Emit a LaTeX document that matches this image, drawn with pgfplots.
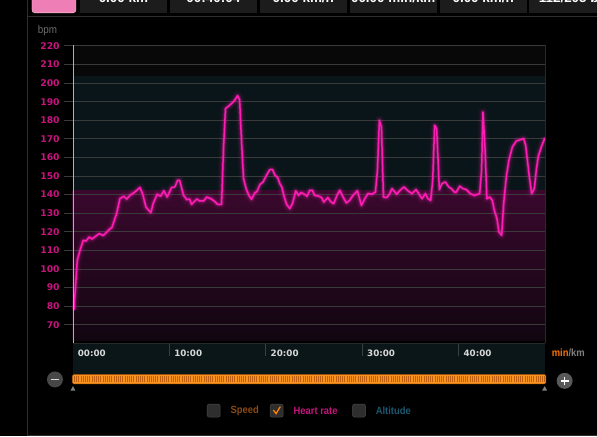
\documentclass[border=0pt]{standalone}
\usepackage{pgfplots}
\pgfplotsset{compat=1.18}
\usepackage{pgfplotstable}
\usepackage{fontspec}
\setmainfont{DejaVu Sans}
\newfontfamily\labfont[FakeStretch=0.9]{Liberation Sans}
\newfontfamily\topfont{Liberation Sans}
\newfontfamily\tickfont{DejaVu Sans}
\definecolor{hr}{HTML}{FF1CB4}
\definecolor{ylab}{HTML}{C8137F}
\definecolor{gridc}{HTML}{3A3A3A}
\definecolor{teal}{HTML}{0A1519}
\definecolor{pinktop}{HTML}{3A082D}
\definecolor{pinkbot}{HTML}{110610}
\definecolor{band}{HTML}{0B1619}
\definecolor{axorange}{HTML}{F5A04A}
\definecolor{barorange}{HTML}{F7931E}
\definecolor{bardark}{HTML}{C0600E}
\definecolor{speedc}{HTML}{8C4A12}
\definecolor{altc}{HTML}{1C5870}
\definecolor{boxc}{HTML}{1C1C1C}
\definecolor{pinkbox}{HTML}{EE7FB6}

\pgfplotstableread{
t bpm
0.13 77.8
0.48 104.7
0.76 110
1.10 115.4
1.38 115
1.72 117.2
2.00 116.1
2.28 117.2
2.76 119
3.17 118
3.52 119.7
3.79 121.2
4.07 122.3
4.56 129.8
4.90 137.8
5.32 139.1
5.60 137.6
5.94 139.6
6.46 141.4
6.97 143.8
7.25 140.5
7.60 133.3
8.11 130.3
8.35 135.2
8.77 140.2
9.12 139.1
9.46 142
9.80 138.7
10.26 143.8
10.60 144.1
10.88 147.7
11.09 147.7
11.50 139.6
11.84 137.3
12.12 137.6
12.33 134.8
12.88 137.6
13.16 136.6
13.58 136.6
13.92 138.7
14.40 137.6
14.75 136.2
15.03 134.8
15.44 134.8
15.65 165.6
15.85 186.2
16.27 188
16.75 190.3
17.10 193.2
17.31 191.1
17.51 169.2
17.72 148.6
17.99 143.2
18.27 139.6
18.55 137.5
18.89 140.9
19.10 141.6
19.44 145.5
19.75 146.8
20.10 150.4
20.45 153.4
20.73 153.4
20.99 150.4
21.27 149.1
21.48 145.9
21.69 144.1
21.90 139.6
22.18 134.8
22.52 132.5
22.80 135.2
23.14 142
23.42 139.6
23.69 141.1
24.04 140.2
24.31 139.1
24.59 142.3
24.87 142.3
25.08 139.6
25.49 139.2
25.83 138.4
26.04 136
26.46 138.4
26.80 136
27.08 135.2
27.42 139.6
27.70 142.3
28.04 138.7
28.39 135.5
28.74 137
29.08 139.6
29.53 142
29.95 134.2
30.29 137.8
30.63 140.5
31.05 140.2
31.40 141.4
31.61 153.1
31.81 180
32.02 176.3
32.23 138.7
32.57 138.4
32.85 140.2
33.12 143.2
33.61 140.2
33.95 142.3
34.36 144.1
34.78 142
35.19 140.5
35.61 142.7
35.89 140.5
36.23 137.8
36.58 140.5
36.85 137.8
37.13 136.9
37.34 147.7
37.54 177.3
37.75 175.5
38.03 142.7
38.30 145.9
38.65 146.8
39.00 144.1
39.28 143.2
39.62 141.2
39.79 141.4
40.14 144.5
40.48 143.2
40.83 142.7
41.24 140.5
41.66 139.6
42.21 140.5
42.41 153.1
42.55 184.4
42.76 165.6
42.96 137.8
43.24 138.7
43.52 136.9
43.73 131.6
44.00 127.1
44.21 119.9
44.49 118.1
44.70 135.2
44.97 149.5
45.24 158.4
45.60 165.6
46.01 168.8
46.49 169.6
46.77 170.1
46.98 166.5
47.32 151.3
47.60 140.5
47.88 143.2
48.08 153.1
48.29 160.6
48.63 166
48.98 170.6
}\hrdata

\begin{document}
\begin{tikzpicture}[x=1bp,y=1bp]
\coordinate (P0) at (0,0);
\coordinate (P1) at (597,436);
\path (P0) rectangle (P1);
% top bar (partly above the picture)
\begin{scope}[overlay]
\fill[pinkbox, draw=pink!70!white, rounded corners=3bp] (32,423.5) rectangle (76,440);
\foreach \a/\b in {80/167,170/257,260/347,350/437,440/527,529/620}{
  \fill[boxc] (\a,423.5) rectangle (\b,440);
}
\foreach \c/\s in {123.5/{0.00 km},213.5/{00:40:04},303.5/{0.00 km/h},393.5/{00.00 min/km},483.5/{0.00 km/h}}{
  \node[anchor=base, inner sep=0, text=white, font=\topfont\bfseries\fontsize{13.5}{14}\selectfont] at (\c,434) {\s};
}
\node[anchor=base west, inner sep=0, text=white, font=\topfont\bfseries\fontsize{13.5}{14}\selectfont] at (539,434) {112/205 bpm};
\end{scope}
\draw[gridc!80!black, line width=0.8bp] (27.4,420) -- (597,420);
\draw[gridc!80!black, line width=0.8bp] (27.4,0) -- (27.4,436);
\draw[gridc!80!black, line width=0.8bp] (27.4,0.5) -- (597,0.5);
% bpm label
\node[anchor=base west, inner sep=0, text=gray!85!black, font=\labfont\fontsize{11}{12}\selectfont] at (37.7,403) {bpm};

\begin{axis}[
  set layers,
  at={(72.7bp,96bp)}, anchor=south west,
  scale only axis, width=472.8bp, height=294.5bp,
  xmin=0, xmax=49.0, ymin=61.7, ymax=220,
  axis line style={draw=none},
  ytick={70,80,...,220},
  ytick pos=left,
  ymajorgrids,
  grid style={gridc, line width=0.8bp},
  tick align=outside,
  major tick length=9bp,
  ytick style={gridc, line width=0.8bp},
  xtick={0,10,20,30,40},
  xticklabels={},
  xtick style={draw=none},
  /pgf/number format/assume math mode=true,
  yticklabel style={font=\tickfont\bfseries\fontsize{9.3}{9.5}\selectfont, text=ylab, xshift=-0.5bp},
]
\begin{pgfonlayer}{axis background}
\fill[black] (P0) rectangle (P1);
\fill[black!97!white] (axis cs:0,204) rectangle (axis cs:49,220);
\fill[teal] (axis cs:0,142.3) rectangle (axis cs:49,204);
\fill[top color=pinktop, bottom color=pinkbot] (axis cs:0,61.7) rectangle (axis cs:49,142.3);
\end{pgfonlayer}
\addplot[hr, line width=9bp, opacity=0.06, line join=round] table[x=t,y=bpm] {\hrdata};
\addplot[hr, line width=5.5bp, opacity=0.12, line join=round] table[x=t,y=bpm] {\hrdata};
\addplot[hr, line width=3bp, opacity=0.3, line join=round] table[x=t,y=bpm] {\hrdata};
\addplot[hr, line width=1.5bp, line join=round] table[x=t,y=bpm] {\hrdata};
\end{axis}

% band with time labels
\fill[band] (73,62) rectangle (545.5,93);
\draw[gridc!70!black, line width=0.8bp] (73,93) -- (545.5,93);
\foreach \xx in {169.2,265.7,362.2,458.7}{
  \draw[band!60!gray, line width=0.7bp] (\xx,92) -- (\xx,80);
}
\draw[gridc!70!black, line width=0.8bp] (545.7,93) -- (545.7,391);
\draw[axorange, line width=0.9bp] (73.3,391) -- (73.3,93);
\foreach \xx/\s in {72.7/00:00,169.2/10:00,265.7/20:00,362.2/30:00,458.7/40:00}{
  \node[anchor=west, inner sep=0, text=white!85!black, font=\tickfont\bfseries\fontsize{8.8}{9}\selectfont] at (\xx+5,83) {\s};
}
\node[anchor=west, inner sep=0, font=\labfont\bfseries\fontsize{10.5}{11}\selectfont] at (552,83) {\textcolor{orange!90!red}{min}\textcolor{gray}{/km}};
% slider bar
\fill[barorange, draw=bardark, rounded corners=1.5bp] (72.3,52.2) rectangle (546.3,61.5);
\draw[bardark, line width=6bp, dash pattern=on 0.9bp off 1.3bp] (74,56.85) -- (545,56.85);
\fill[gray] (73,50) -- (70.5,45.5) -- (75.5,45.5) -- cycle;
\fill[gray] (545,50) -- (542.5,45.5) -- (547.5,45.5) -- cycle;
\fill[black!72!white] (55,56.7) circle (8);
\fill[white!85!black] (51,55.9) rectangle (59,57.5);
\fill[black!65!white] (565,55.3) circle (8);
\fill[white] (561,54.5) rectangle (569,56.1);
\fill[white] (564.2,51.3) rectangle (565.8,59.3);
% legend
\foreach \a in {207.3,270.3,352.8}{
  \fill[black!82!white, draw=black!70!white, rounded corners=2bp] (\a,19) rectangle (\a+13,32);
}
\draw[orange, line width=1.3bp] (273.5,26) -- (276.3,22.5) -- (280.5,29.5);
\node[anchor=west, inner sep=0, text=speedc, font=\labfont\bfseries\fontsize{10.5}{11}\selectfont] at (230.5,25.5) {Speed};
\node[anchor=west, inner sep=0, text=ylab, font=\labfont\bfseries\fontsize{10.5}{11}\selectfont] at (293.6,25.5) {Heart rate};
\node[anchor=west, inner sep=0, text=altc, font=\labfont\bfseries\fontsize{10.5}{11}\selectfont] at (375.8,25.5) {Altitude};
\end{tikzpicture}
\end{document}
